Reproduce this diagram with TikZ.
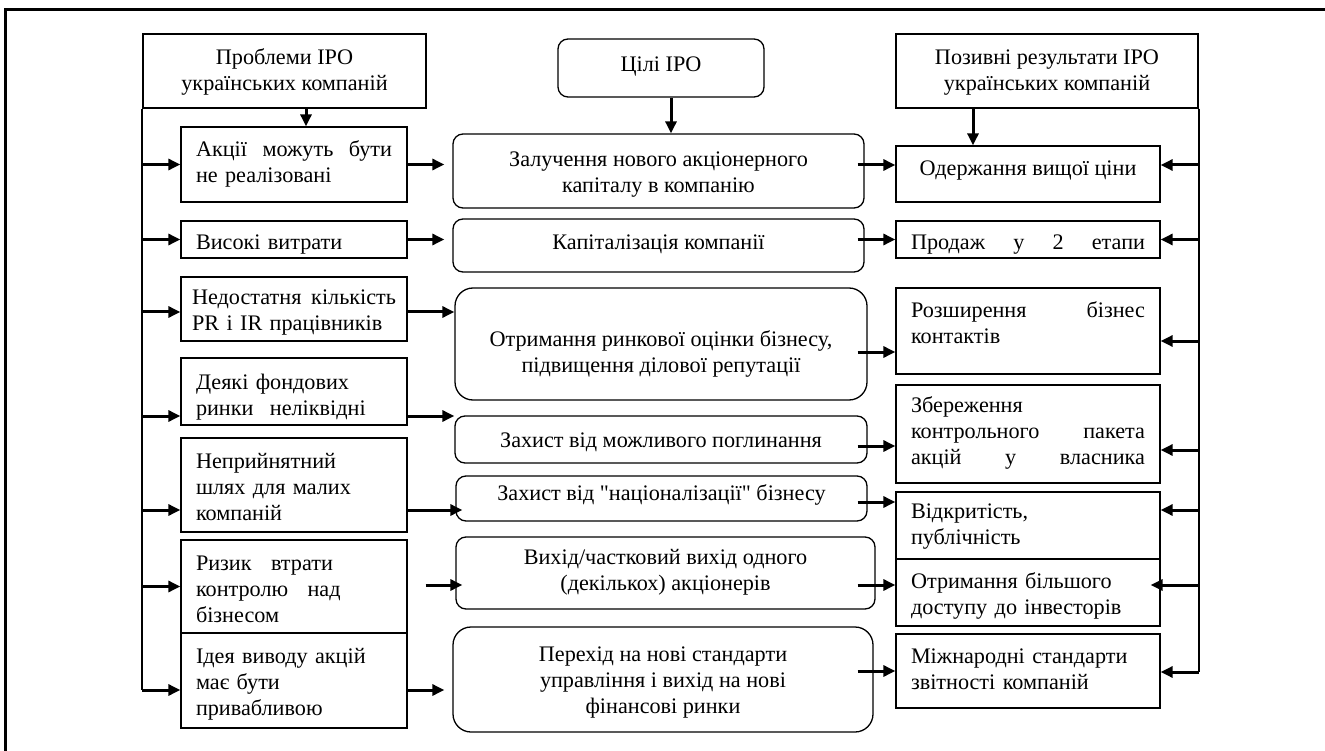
\documentclass[tikz,border=0pt]{standalone}
\usepackage{fontspec}
\setmainfont{Liberation Serif}
\usetikzlibrary{arrows.meta,calc}
\newcommand{\dq}{{\addfontfeature{Ligatures=TeXOff}"}}
\begin{document}
\begin{tikzpicture}[x=1pt,y=-1pt,
  txt/.style={font=\fontsize{22.2}{26}\selectfont},
  tb/.style 2 args={text height=#1, text depth=#2},
  sbox/.style={draw, line width=1.3pt, inner ysep=0pt, txt},
  lbox/.style={sbox, text width=196pt, inner xsep=15pt, align=left},
  rbox/.style={sbox, text width=234pt, inner xsep=15pt, align=left},
  hbox/.style={sbox, inner xsep=0pt, align=center},
  cbox/.style={draw, line width=1.3pt, rounded corners=10pt, align=center, inner sep=0pt, txt},
  bigr/.style={rounded corners=18pt},
  arr/.style={line width=3pt, -{Triangle[length=12pt,width=11pt]}},
  bus/.style={line width=1.8pt},
  frame/.style={line width=3pt},
]
\useasboundingbox (0,0) rectangle (1325,751);
% outer frame (top and left sides)
\coordinate (ftl) at (5,10);
\coordinate (ftr) at (1325,10);
\coordinate (fbl) at (5,751);
\draw[frame] (ftr) -- (ftl) -- (fbl);

% ---------------- left column ----------------
\node[hbox, tb={46pt}{6pt}, minimum width=283pt, minimum height=74pt] (L0) at (284.5,71) {Проблеми IPO\\українських компаній};
\node[lbox, tb={16pt}{31pt}, minimum height=75pt] (L1) at (294,164.5) {Акції\hfill можуть\hfill бути\\не реалізовані};
\node[lbox, tb={21pt}{0pt}, minimum height=37pt] (L2) at (294,239.5) {Високі витрати};
\node[lbox, text width=204pt, inner xsep=11pt, tb={16pt}{24pt}, minimum height=64pt] (L3) at (294,309) {Недостатня\hfill кількість\\PR і IR працівників};
\node[lbox, tb={16pt}{21pt}, minimum height=67pt] (L4) at (294,391.5) {Деякі фондових\\ринки\hspace{9pt} неліквідні};
\node[lbox, tb={16pt}{50pt}, minimum height=94pt] (L5) at (294,485) {Неприйнятний\\шлях для малих\\компаній};
\node[lbox, tb={16pt}{49pt}, minimum height=93pt] (L6) at (294,586.5) {Ризик\hspace{12pt} втрати\\контролю\hspace{12pt} над\\бізнесом};
\node[lbox, tb={16pt}{51pt}, minimum height=95pt] (L7) at (294,680.5) {Ідея виводу акцій\\має бути\\привабливою};

% ---------------- centre column ----------------
\node[cbox, tb={16pt}{8pt}, minimum width=206pt, minimum height=58pt] (C0) at (661,68) {Цілі IPO};
\node[cbox, tb={49pt}{5pt}, minimum width=411pt, minimum height=74pt] (C1) at (658.5,171) {Залучення нового акціонерного\\капіталу в компанію};
\node[cbox, tb={16pt}{7pt}, minimum width=411pt, minimum height=53pt] (C2) at (658.5,245.5) {Капіталізація компанії};
\node[cbox, bigr, tb={61pt}{5pt}, minimum width=412pt, minimum height=112pt] (C3) at (661,344) {Отримання ринкової оцінки бізнесу,\\підвищення ділової репутації};
\node[cbox, tb={16pt}{1pt}, minimum width=412pt, minimum height=47pt] (C4) at (661,439.5) {Захист від можливого поглинання};
\node[cbox, tb={16pt}{13pt}, minimum width=411pt, minimum height=45pt] (C5) at (661.5,498.5) {Захист від \dq націоналізації\dq{} бізнесу};
\node[cbox, tb={39pt}{5pt}, minimum width=419pt, minimum height=72pt] (C6) at (665.5,573) {Вихід/частковий вихід одного\\(декількох) акціонерів};
\node[cbox, bigr, tb={72pt}{5pt}, minimum width=420pt, minimum height=105pt] (C7) at (663,679.5) {Перехід на нові стандарти\\управління і вихід на нові\\фінансові ринки};

% ---------------- right column ----------------
\node[hbox, tb={46pt}{6pt}, minimum width=302pt, minimum height=74pt] (R0) at (1047,71) {Позивні результати IPO\\українських компаній};
\node[sbox, align=center, tb={16pt}{12pt}, minimum width=264pt, minimum height=56pt] (R1) at (1028,174) {Одержання вищої ціни};
\node[rbox, tb={21pt}{0pt}, minimum height=37pt] (R2) at (1028,239.5) {Продаж\hfill у\hfill 2\hfill етапи};
\node[rbox, tb={16pt}{44pt}, minimum height=86pt] (R3) at (1028,331) {Розширення\hfill бізнес\\контактів};
\node[rbox, tb={16pt}{60pt}, minimum height=98pt] (R4) at (1028,434) {Збереження\\контрольного\hfill пакета\\акцій\hfill у\hfill власника};
\node[rbox, tb={16pt}{31pt}, minimum height=67pt] (R5) at (1028,525.5) {Відкритість,\\публічність};
\node[rbox, tb={16pt}{25pt}, minimum height=67pt] (R6) at (1028,592.5) {Отримання більшого\\доступу до інвесторів};
\node[rbox, tb={16pt}{32pt}, minimum height=74pt] (R7) at (1028,671) {Міжнародні стандарти\\звітності компаній};

% ---------------- vertical arrows from the headers ----------------
\draw[arr] ($(L1.north |- L0.south)+(12,0)$) -- ($(L1.north)+(12,0)$);
\draw[arr] ($(C0.south)+(10,0)$) -- ($(C1.north -| C0.south)+(10,0)$);
\draw[arr] ($(R0.south)+(-74,0)$) -- ($(R1.north -| R0.south)+(-74,0)$);

% ---------------- left bus ----------------
\coordinate (lbot) at ($(L7.west -| L0.west)+(0,9.5)$);
\draw[bus] (L0.south west) -- (lbot);
\draw[arr] (L1.west -| L0.west) -- (L1.west);
\draw[arr] (L2.west -| L0.west) -- (L2.west);
\draw[arr] ($(L3.west -| L0.west)+(0,3)$) -- ($(L3.west)+(0,3)$);
\draw[arr] ($(L4.west -| L0.west)+(0,24.5)$) -- ($(L4.west)+(0,24.5)$);
\draw[arr] ($(L5.west -| L0.west)+(0,25)$) -- ($(L5.west)+(0,25)$);
\draw[arr] (L6.west -| L0.west) -- (L6.west);
\draw[arr] (lbot) -- ($(L7.west)+(0,9.5)$);

% ---------------- left column -> centre column ----------------
\draw[arr] (L1.east) -- ($(L1.east -| C1.west)+(-8,0)$);
\draw[arr] (L2.east) -- ($(L2.east -| C2.west)+(-8,0)$);
\draw[arr] ($(L3.east)+(0,3)$) -- ($(L3.east -| C3.west)+(0,3)$);
\draw[arr] ($(L4.east)+(0,24.5)$) -- ($(L4.east -| C4.west)+(0,24.5)$);
\draw[arr] ($(L5.east)+(0,25)$) -- ($(L5.east -| C5.west)+(7,25)$);
\draw[arr] ($(L6.east)+(18,-1.5)$) -- ($(L6.east -| C6.west)+(7,-1.5)$);
\draw[arr] ($(L7.east)+(0,9.5)$) -- ($(L7.east -| C7.west)+(-8,9.5)$);

% ---------------- centre column -> right column ----------------
\draw[arr] ($(R1.west -| C1.east)+(-7,-9)$) -- ($(R1.west)+(0,-9)$);
\draw[arr] ($(R2.west -| C2.east)+(-7,0)$) -- (R2.west);
\draw[arr] ($(R3.west -| C3.east)+(-10,21)$) -- ($(R3.west)+(0,21)$);
\draw[arr] ($(R4.west -| C4.east)+(-10,12)$) -- ($(R4.west)+(0,12)$);
\draw[arr] ($(R5.west -| C5.east)+(-10,-23.5)$) -- ($(R5.west)+(0,-23.5)$);
\draw[arr] ($(R6.west -| C6.east)+(-18,-7.5)$) -- ($(R6.west)+(0,-7.5)$);
\draw[arr] ($(R7.west -| C7.east)+(-16,0)$) -- (R7.west);

% ---------------- right bus ----------------
\coordinate (rbot) at ($(R7.east -| R0.east)+(0,1)$);
\draw[bus] (R0.south east) -- (rbot);
\draw[arr] ($(R1.east -| R0.east)+(0,-9)$) -- ($(R1.east)+(0,-9)$);
\draw[arr] (R2.east -| R0.east) -- (R2.east);
\draw[arr] ($(R3.east -| R0.east)+(0,10)$) -- ($(R3.east)+(0,10)$);
\draw[arr] ($(R4.east -| R0.east)+(0,16)$) -- ($(R4.east)+(0,16)$);
\draw[arr] ($(R5.east -| R0.east)+(0,-15.5)$) -- ($(R5.east)+(0,-15.5)$);
\draw[arr] ($(R6.east -| R0.east)+(0,-7.5)$) -- ($(R6.east)+(-10,-7.5)$);
\draw[arr] (rbot) -- ($(R7.east)+(0,1)$);
\end{tikzpicture}
\end{document}
